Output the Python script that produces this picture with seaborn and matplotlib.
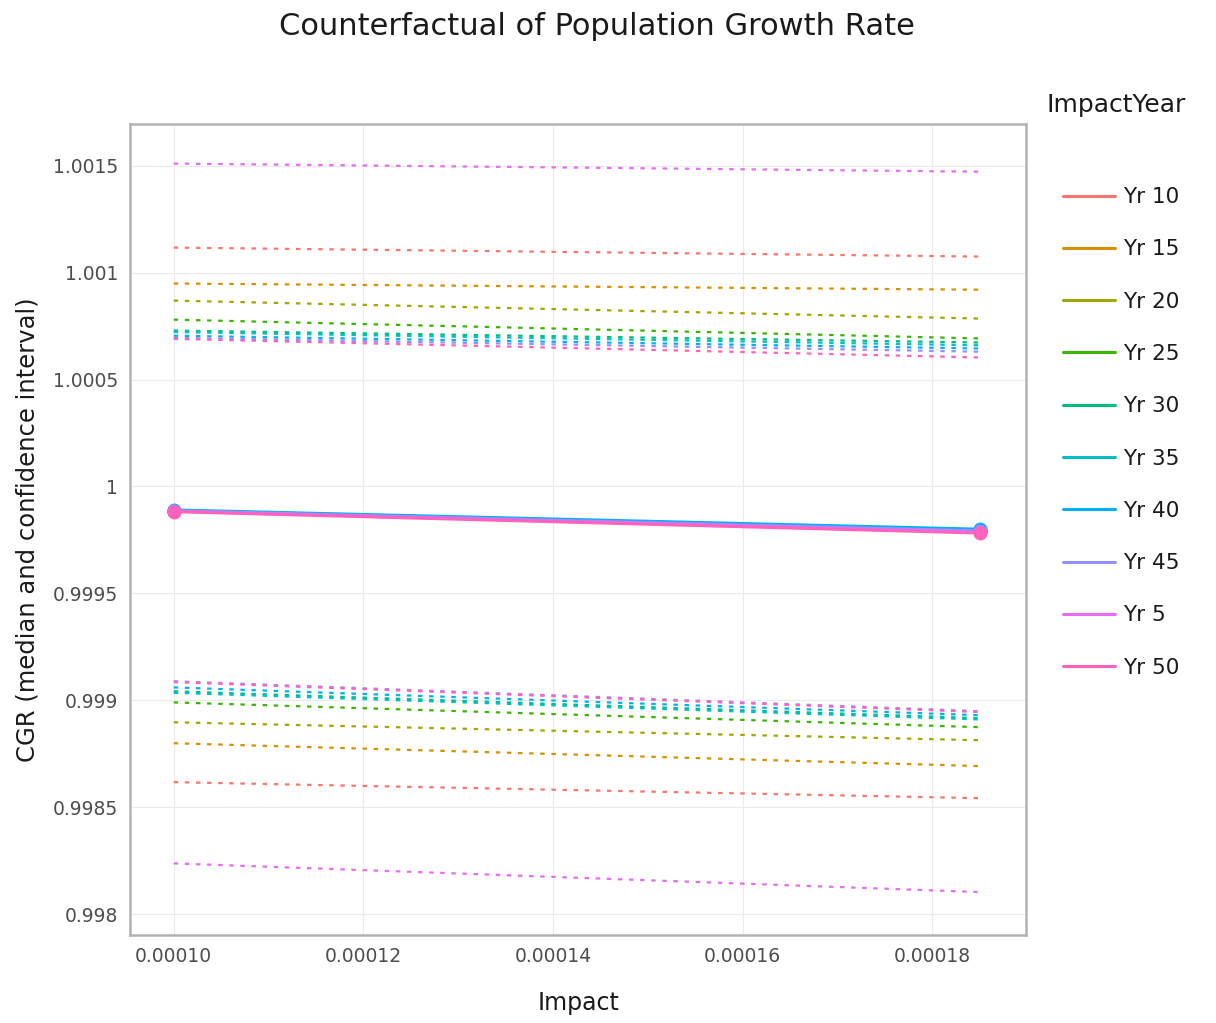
import numpy as np
import pandas as pd
import matplotlib
matplotlib.use("Agg")
import matplotlib.pyplot as plt
from matplotlib.ticker import FuncFormatter
import seaborn as sns

# Data
impact = [0.00010, 0.000185]
years = ["Yr 10", "Yr 15", "Yr 20", "Yr 25", "Yr 30",
         "Yr 35", "Yr 40", "Yr 45", "Yr 5", "Yr 50"]
colors = ["#F8766D", "#D89000", "#A3A500", "#39B600", "#00BF7D",
          "#00BFC4", "#00B0F6", "#9590FF", "#E76BF3", "#FF62BC"]

median_lo = [0.999886, 0.999886, 0.999886, 0.999886, 0.999887,
             0.999887, 0.999890, 0.999886, 0.999884, 0.999882]
median_hi = [0.999792, 0.999792, 0.999792, 0.999793, 0.999795,
             0.999796, 0.999800, 0.999792, 0.999786, 0.999782]
upper_lo = [1.001117, 1.000949, 1.000869, 1.000780, 1.000729,
            1.000722, 1.000705, 1.000695, 1.001510, 1.000690]
upper_hi = [1.001075, 1.000920, 1.000785, 1.000692, 1.000673,
            1.000660, 1.000645, 1.000630, 1.001472, 1.000603]
lower_lo = [0.998617, 0.998799, 0.998897, 0.998990, 0.999042,
            0.999035, 0.999060, 0.999089, 0.998237, 0.999085]
lower_hi = [0.998542, 0.998692, 0.998813, 0.998874, 0.998916,
            0.998910, 0.998930, 0.998949, 0.998103, 0.998945]

rows = []
for i, yr in enumerate(years):
    for j, x in enumerate(impact):
        rows.append({"Impact": x, "ImpactYear": yr,
                     "median": [median_lo, median_hi][j][i],
                     "upper": [upper_lo, upper_hi][j][i],
                     "lower": [lower_lo, lower_hi][j][i]})
df = pd.DataFrame(rows)
palette = dict(zip(years, colors))

sns.set_theme(style="white")
plt.rcParams["font.family"] = ["DejaVu Sans"]

fig = plt.figure(figsize=(12.16, 10.23), dpi=100)
ax = fig.add_axes([0.107, 0.086, 0.737, 0.793])

for col in ["upper", "lower"]:
    sns.lineplot(data=df, x="Impact", y=col, hue="ImpactYear", hue_order=years,
                 palette=palette, linewidth=1.6, dashes=False, legend=False,
                 ax=ax, estimator=None)
for line in ax.get_lines():
    line.set_linestyle((0, (2, 3)))

sns.lineplot(data=df, x="Impact", y="median", hue="ImpactYear", hue_order=years,
             palette=palette, linewidth=2.2, marker="o", markersize=10,
             markeredgewidth=0, legend=False, ax=ax, estimator=None)

ax.set_xlim(0.0000954, 0.0001899)
ax.set_ylim(0.997902, 1.001696)
ax.set_xticks([0.00010, 0.00012, 0.00014, 0.00016, 0.00018])
ax.set_yticks([0.998, 0.9985, 0.999, 0.9995, 1.0, 1.0005, 1.001, 1.0015])
ax.xaxis.set_major_formatter(FuncFormatter(lambda v, p: "%.5f" % v))
ax.yaxis.set_major_formatter(FuncFormatter(lambda v, p: "%g" % round(v, 5)))
ax.grid(True, color="#ebebeb", linewidth=0.8)
ax.set_axisbelow(True)
for s in ax.spines.values():
    s.set_color("#b3b3b3")
    s.set_linewidth(1.8)
ax.tick_params(axis="both", which="major", direction="out", length=5,
               width=1, color="#b3b3b3", labelcolor="#4d4d4d", labelsize=13.5)

ax.set_xlabel("Impact", fontsize=17, color="#1a1a1a", labelpad=18)
ax.set_ylabel("CGR (median and confidence interval)", fontsize=17.5,
              color="#1a1a1a", labelpad=10)
fig.suptitle("Counterfactual of Population Growth Rate", fontsize=22,
             x=0.491, y=0.988, color="#1a1a1a")

# legend
handles = [plt.Line2D([], [], color=c, linewidth=2.2) for c in colors]
leg = fig.legend(handles, years, loc="upper left", bbox_to_anchor=(0.858, 0.836),
                 frameon=False, fontsize=15.5, handlelength=2.45, handletextpad=0.35,
                 labelspacing=1.5)
for t in leg.get_texts():
    t.set_color("#1a1a1a")
fig.text(0.861, 0.897, "ImpactYear", fontsize=18, color="#1a1a1a", va="center")

fig.savefig("out.png", dpi=100)
